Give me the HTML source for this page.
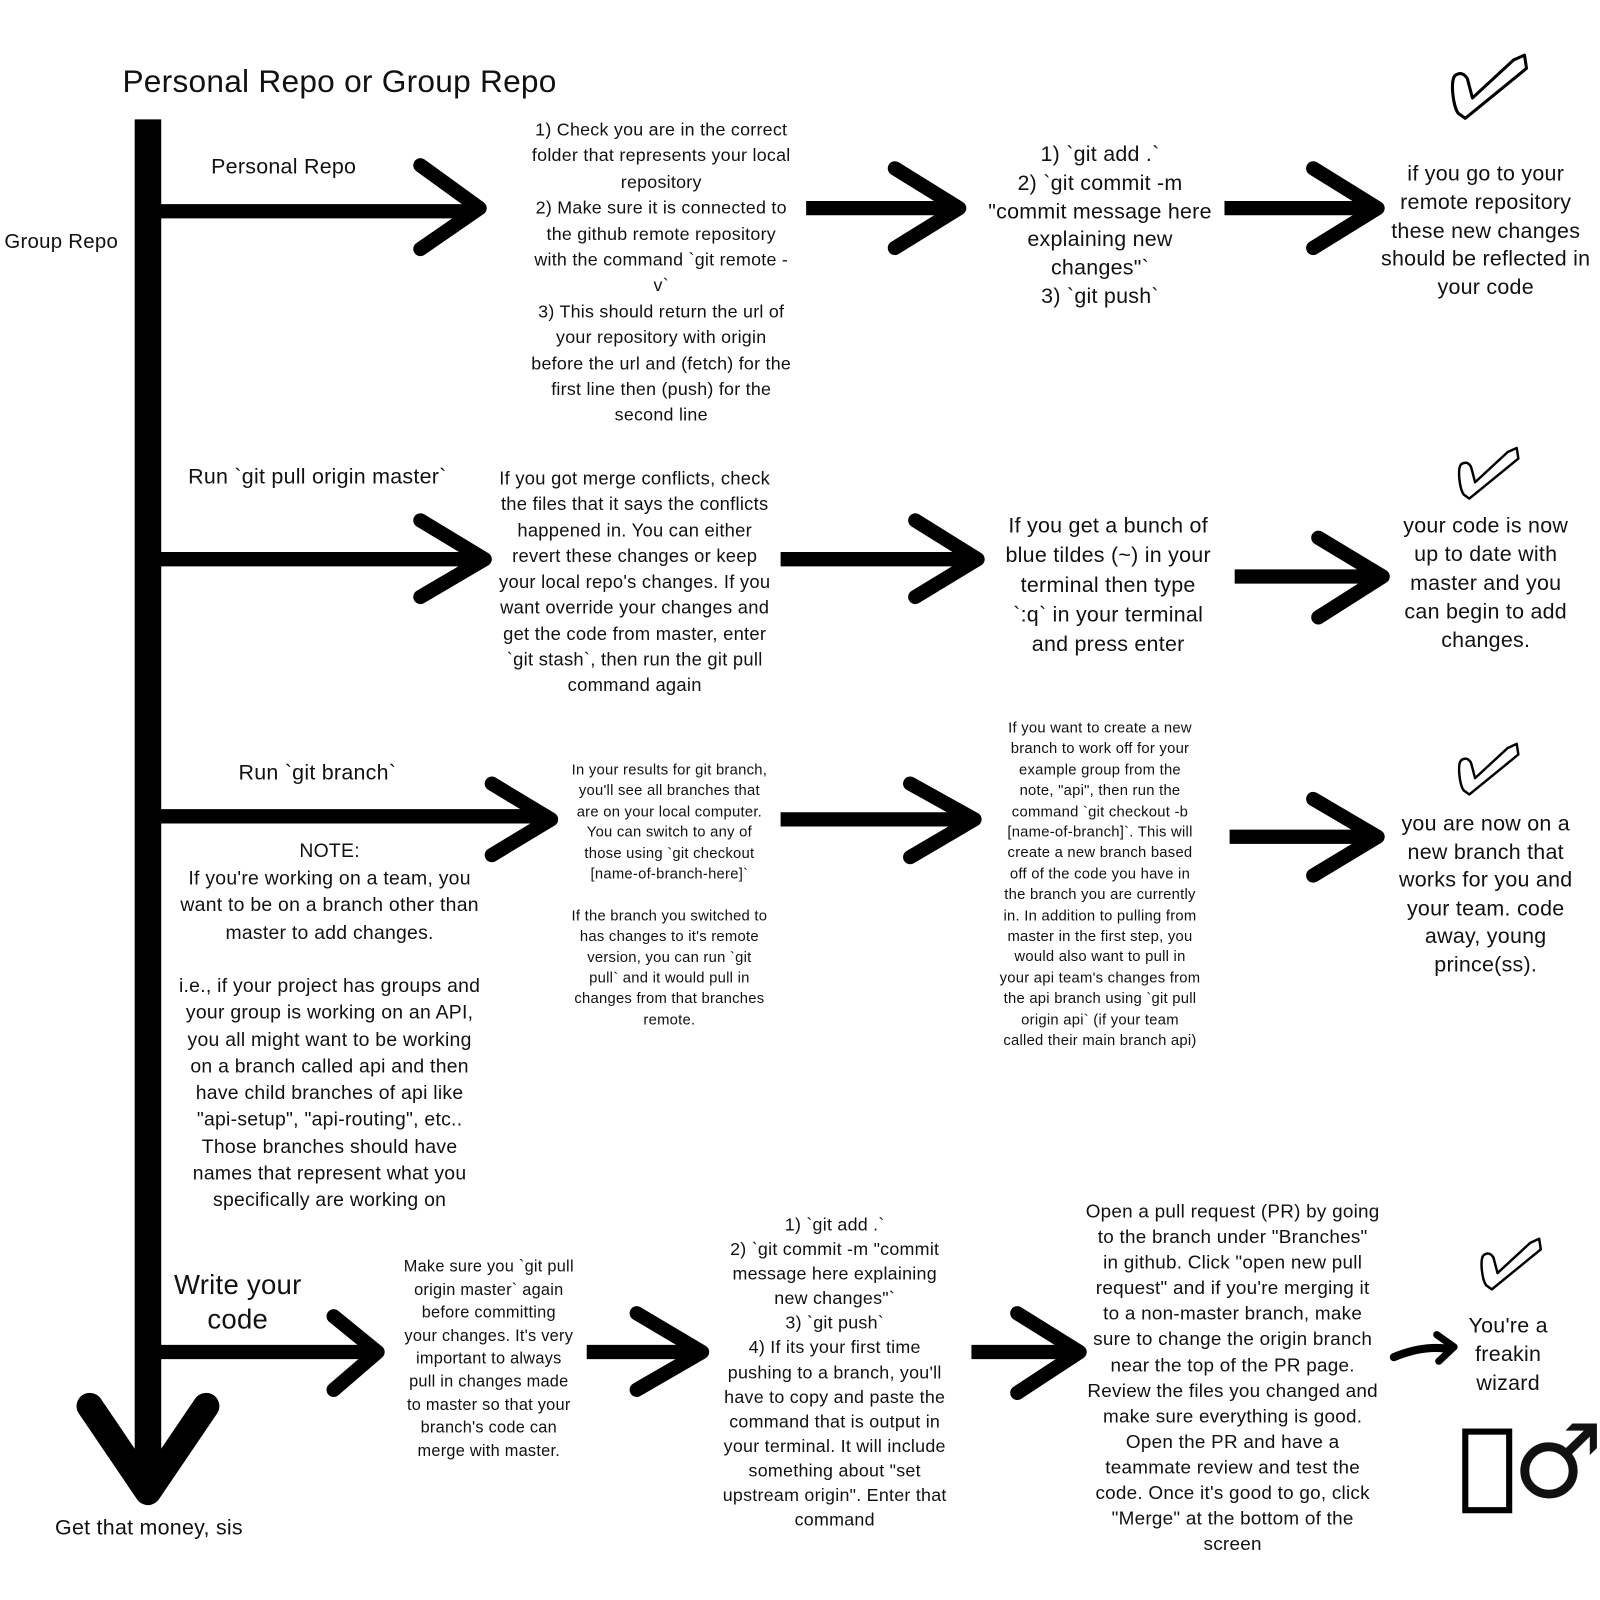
<!DOCTYPE html>
<html><head><meta charset="utf-8">
<style>
html,body{margin:0;padding:0;background:#fff;}
body{width:1600px;height:1600px;overflow:hidden;position:relative;}
#w{position:absolute;left:0;top:0;width:1568px;height:1568px;transform:scale(1.0204);transform-origin:0 0;font-family:"Liberation Sans",sans-serif;color:#111;letter-spacing:0.25px;}
.t{position:absolute;text-align:center;white-space:nowrap;transform:translateX(-50%);}
svg{position:absolute;left:0;top:0;}
</style></head><body><div id="w">
<svg width="1568" height="1568" viewBox="0 0 1568 1568">
<defs>
<path id="ck" d="M5,25 C0,30 3,55 8,62 L15,67 L75,18 L73,5 L62,10 L22,47 L17,28 Q12,20 5,25 Z" fill="none" stroke="#000" stroke-width="3" stroke-linejoin="round"/>
</defs>
<g stroke="#000" fill="none" stroke-linecap="round" stroke-linejoin="round">
<line x1="145" y1="117" x2="145" y2="1455" stroke-width="26" stroke-linecap="butt"/>
<polyline points="88,1378 145,1462 202,1378" stroke-width="26"/>
<g stroke-width="14">
<line x1="158" y1="207" x2="465" y2="207"/><polyline points="412,162 470,204 412,244"/>
<line x1="158" y1="548" x2="470" y2="548"/><polyline points="412,510 475,548 412,585"/>
<line x1="158" y1="800" x2="535" y2="800"/><polyline points="482,768 540,803 482,838"/>
<line x1="158" y1="1325" x2="365" y2="1325"/><polyline points="327,1290 370,1325 327,1362"/>
<line x1="790" y1="204" x2="935" y2="204" stroke-linecap="butt"/><polyline points="877,165 940,204 877,243"/>
<line x1="765" y1="548" x2="950" y2="548" stroke-linecap="butt"/><polyline points="897,510 958,548 897,585"/>
<line x1="765" y1="803" x2="950" y2="803" stroke-linecap="butt"/><polyline points="892,768 955,803 892,840"/>
<line x1="575" y1="1325" x2="682" y2="1325" stroke-linecap="butt"/><polyline points="624,1287 688,1325 624,1362"/>
<line x1="1200" y1="204" x2="1345" y2="204" stroke-linecap="butt"/><polyline points="1287,165 1350,204 1287,243"/>
<line x1="1210" y1="565" x2="1350" y2="565" stroke-linecap="butt"/><polyline points="1292,527 1355,565 1292,605"/>
<line x1="1205" y1="820" x2="1345" y2="820" stroke-linecap="butt"/><polyline points="1287,783 1350,820 1287,858"/>
<line x1="952" y1="1325" x2="1052" y2="1325" stroke-linecap="butt"/><polyline points="997,1287 1058,1325 997,1365"/>
</g>
<path d="M1366,1330 Q1395,1318 1420,1322" stroke-width="8"/>
<polyline points="1408,1308 1425,1320 1410,1334" stroke-width="7"/>
<rect x="1436" y="1403" width="43" height="77" stroke-width="6" stroke-linejoin="miter"/>
</g>
<use href="#ck" transform="translate(1421,49)"/>
<use href="#ck" transform="translate(1428,435) scale(0.8)"/>
<use href="#ck" transform="translate(1428,725) scale(0.8)"/>
<use href="#ck" transform="translate(1450,1210) scale(0.8)"/>
</svg>

<div class="t" style="top:62px;font-size:31px;transform:none;left:120px;">Personal Repo or Group Repo</div>
<div class="t" style="left:60px;top:226px;font-size:20px;">Group Repo</div>
<div class="t" style="left:278px;top:152px;font-size:21px;">Personal Repo</div>
<div class="t" style="left:648px;top:115px;font-size:17.5px;line-height:25.4px;">1) Check you are in the correct<br>folder that represents your local<br>repository<br>2) Make sure it is connected to<br>the github remote repository<br>with the command `git remote -<br>v`<br>3) This should return the url of<br>your repository with origin<br>before the url and (fetch) for the<br>first line then (push) for the<br>second line</div>
<div class="t" style="left:1078px;top:138px;font-size:21px;line-height:27.8px;">1) `git add .`<br>2) `git commit -m<br>"commit message here<br>explaining new<br>changes"`<br>3) `git push`</div>
<div class="t" style="left:1456px;top:157px;font-size:21px;line-height:27.8px;">if you go to your<br>remote repository<br>these new changes<br>should be reflected in<br>your code</div>

<div class="t" style="left:311px;top:456px;font-size:21px;">Run `git pull origin master`</div>
<div class="t" style="left:622px;top:457px;font-size:18px;line-height:25.3px;">If you got merge conflicts, check<br>the files that it says the conflicts<br>happened in. You can either<br>revert these changes or keep<br>your local repo's changes. If you<br>want override your changes and<br>get the code from master, enter<br>`git stash`, then run the git pull<br>command again</div>
<div class="t" style="left:1086px;top:501px;font-size:21px;line-height:29px;">If you get a bunch of<br>blue tildes (~) in your<br>terminal then type<br>`:q` in your terminal<br>and press enter</div>
<div class="t" style="left:1456px;top:502px;font-size:21px;line-height:28px;">your code is now<br>up to date with<br>master and you<br>can begin to add<br>changes.</div>

<div class="t" style="left:311px;top:746px;font-size:21px;">Run `git branch`</div>
<div class="t" style="left:323px;top:822px;font-size:19px;line-height:26.5px;">NOTE:<br>If you're working on a team, you<br>want to be on a branch other than<br>master to add changes.</div>
<div class="t" style="left:323px;top:954px;font-size:19px;line-height:26.3px;">i.e., if your project has groups and<br>your group is working on an API,<br>you all might want to be working<br>on a branch called api and then<br>have child branches of api like<br>"api-setup", "api-routing", etc..<br>Those branches should have<br>names that represent what you<br>specifically are working on</div>
<div class="t" style="left:656px;top:745px;font-size:14.5px;line-height:20.4px;">In your results for git branch,<br>you'll see all branches that<br>are on your local computer.<br>You can switch to any of<br>those using `git checkout<br>[name-of-branch-here]`<br><br>If the branch you switched to<br>has changes to it's remote<br>version, you can run `git<br>pull` and it would pull in<br>changes from that branches<br>remote.</div>
<div class="t" style="left:1078px;top:704px;font-size:14.5px;line-height:20.4px;">If you want to create a new<br>branch to work off for your<br>example group from the<br>note, "api", then run the<br>command `git checkout -b<br>[name-of-branch]`. This will<br>create a new branch based<br>off of the code you have in<br>the branch you are currently<br>in. In addition to pulling from<br>master in the first step, you<br>would also want to pull in<br>your api team's changes from<br>the api branch using `git pull<br>origin api` (if your team<br>called their main branch api)</div>
<div class="t" style="left:1456px;top:794px;font-size:21px;line-height:27.6px;">you are now on a<br>new branch that<br>works for you and<br>your team. code<br>away, young<br>prince(ss).</div>

<div class="t" style="left:233px;top:1242px;font-size:27px;line-height:34px;">Write your<br>code</div>
<div class="t" style="left:479px;top:1231px;font-size:16px;line-height:22.6px;">Make sure you `git pull<br>origin master` again<br>before committing<br>your changes. It's very<br>important to always<br>pull in changes made<br>to master so that your<br>branch's code can<br>merge with master.</div>
<div class="t" style="left:818px;top:1188px;font-size:17.5px;line-height:24.1px;">1) `git add .`<br>2) `git commit -m "commit<br>message here explaining<br>new changes"`<br>3) `git push`<br>4) If its your first time<br>pushing to a branch, you'll<br>have to copy and paste the<br>command that is output in<br>your terminal. It will include<br>something about "set<br>upstream origin". Enter that<br>command</div>
<div class="t" style="left:1208px;top:1174px;font-size:18.5px;line-height:25.1px;">Open a pull request (PR) by going<br>to the branch under "Branches"<br>in github. Click "open new pull<br>request" and if you're merging it<br>to a non-master branch, make<br>sure to change the origin branch<br>near the top of the PR page.<br>Review the files you changed and<br>make sure everything is good.<br>Open the PR and have a<br>teammate review and test the<br>code. Once it's good to go, click<br>"Merge" at the bottom of the<br>screen</div>
<div class="t" style="left:1478px;top:1286px;font-size:21px;line-height:28px;">You're a<br>freakin<br>wizard</div>
<div class="t" style="left:1527px;top:1378px;font-size:100px;line-height:110px;font-family:'DejaVu Sans',sans-serif;">♂</div>
<div class="t" style="left:146px;top:1486px;font-size:21px;">Get that money, sis</div>
</div></body></html>
